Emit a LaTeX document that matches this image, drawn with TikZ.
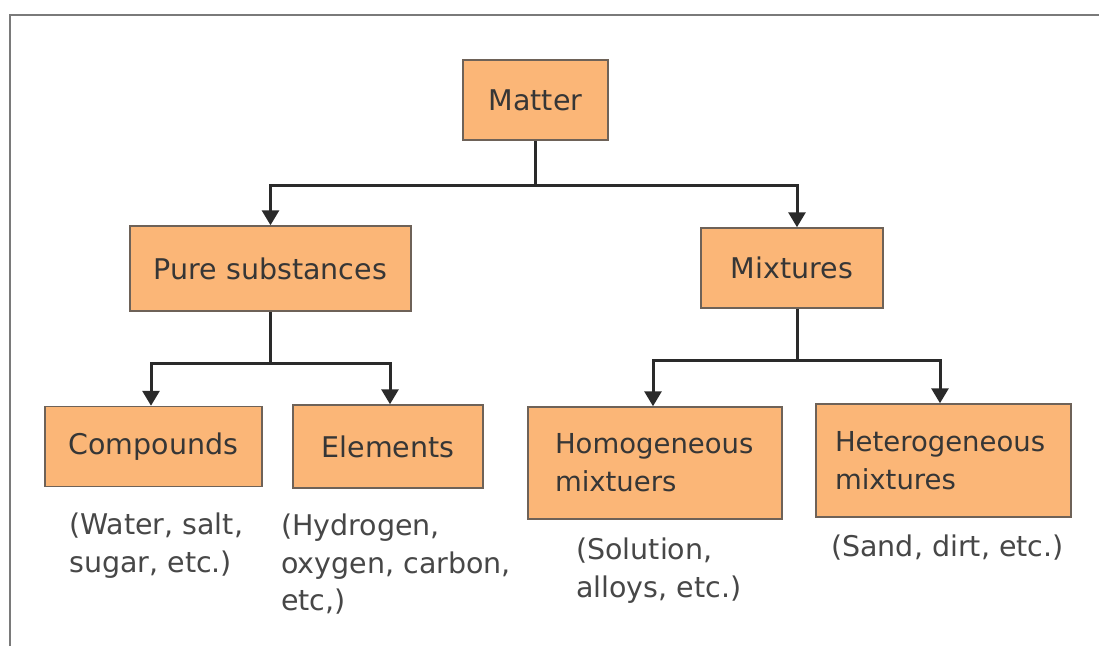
\documentclass[tikz,border=0pt]{standalone}
\usepackage{fontspec}
\setmainfont{DejaVu Sans}
\usetikzlibrary{arrows.meta}
\definecolor{boxfill}{HTML}{FBB677}
\definecolor{boxline}{HTML}{6E6258}
\definecolor{txt}{HTML}{363636}
\definecolor{lbltxt}{HTML}{474747}
\definecolor{framecol}{HTML}{7A7A7A}
\definecolor{conncol}{HTML}{2A2A2A}
\begin{document}
\begin{tikzpicture}[x=1pt,y=-1pt,
  box/.style={draw=boxline,line width=1.5pt,fill=boxfill,text=txt,
    font=\fontsize{28.5}{38}\selectfont,inner sep=0pt},
  twobox/.style={box,font=\fontsize{27.5}{38}\selectfont,align=left},
  lbl/.style={text=lbltxt,font=\fontsize{28.5}{37.5}\selectfont,align=left,
    inner sep=0pt,anchor=north west},
  conn/.style={draw=conncol,line width=3pt},
  arr/.style={conn,-{Triangle[width=17pt,length=15pt]}}]
\useasboundingbox (0,0) rectangle (1099,646);
\fill[white] (0,0) rectangle (1099,646);
\draw[framecol,line width=2.5pt] (10,646) -- (10,15) -- (1099,15);

\node[box,minimum width=145pt,minimum height=80pt] (matter) at (535.5,100) {Matter};
\node[box,minimum width=281pt,minimum height=85pt] (pure) at (270.5,268.5) {Pure substances};
\node[box,minimum width=182pt,minimum height=80pt] (mix) at (792,268) {Mixtures};
\node[box,minimum width=217pt,minimum height=80pt] (comp) at (153.5,446.5) {Compounds};
\node[box,minimum width=190pt,minimum height=83pt] (elem) at (388,446.5) {Elements};
\node[twobox,minimum height=112pt,inner xsep=27pt,text width=200pt] (homo) at (655,463) {Homogeneous\\mixtuers};
\node[twobox,minimum height=113pt,inner xsep=19pt,text width=217pt] (hetero) at (943.5,460.5) {Heterogeneous\\mixtures};

\coordinate (j1) at (535.5,185);
\coordinate (j2) at (270.5,363);
\coordinate (j3) at (797,360);

\draw[conn] (matter.south) -- (j1);
\draw[arr] (j1) -| (pure.north);
\draw[arr] (j1) -| ([xshift=5pt]mix.north);
\draw[conn] (pure.south) -- (j2);
\draw[arr] (j2) -| ([xshift=-2.5pt]comp.north);
\draw[arr] (j2) -| ([xshift=2pt]elem.north);
\draw[conn] ([xshift=5pt]mix.south) -- (j3);
\draw[arr] (j3) -| ([xshift=-2pt]homo.north);
\draw[arr] (j3) -| ([xshift=-3.5pt]hetero.north);

\node[lbl] (lcomp) at (69,513) {(Water, salt,\\sugar, etc.)};
\node[lbl] (lelem) at (281,514) {(Hydrogen,\\oxygen, carbon,\\etc,)};
\node[lbl] (lhomo) at (576,538) {(Solution,\\alloys, etc.)};
\node[lbl] (lhet) at (831,535) {(Sand, dirt, etc.)};
\end{tikzpicture}
\end{document}
